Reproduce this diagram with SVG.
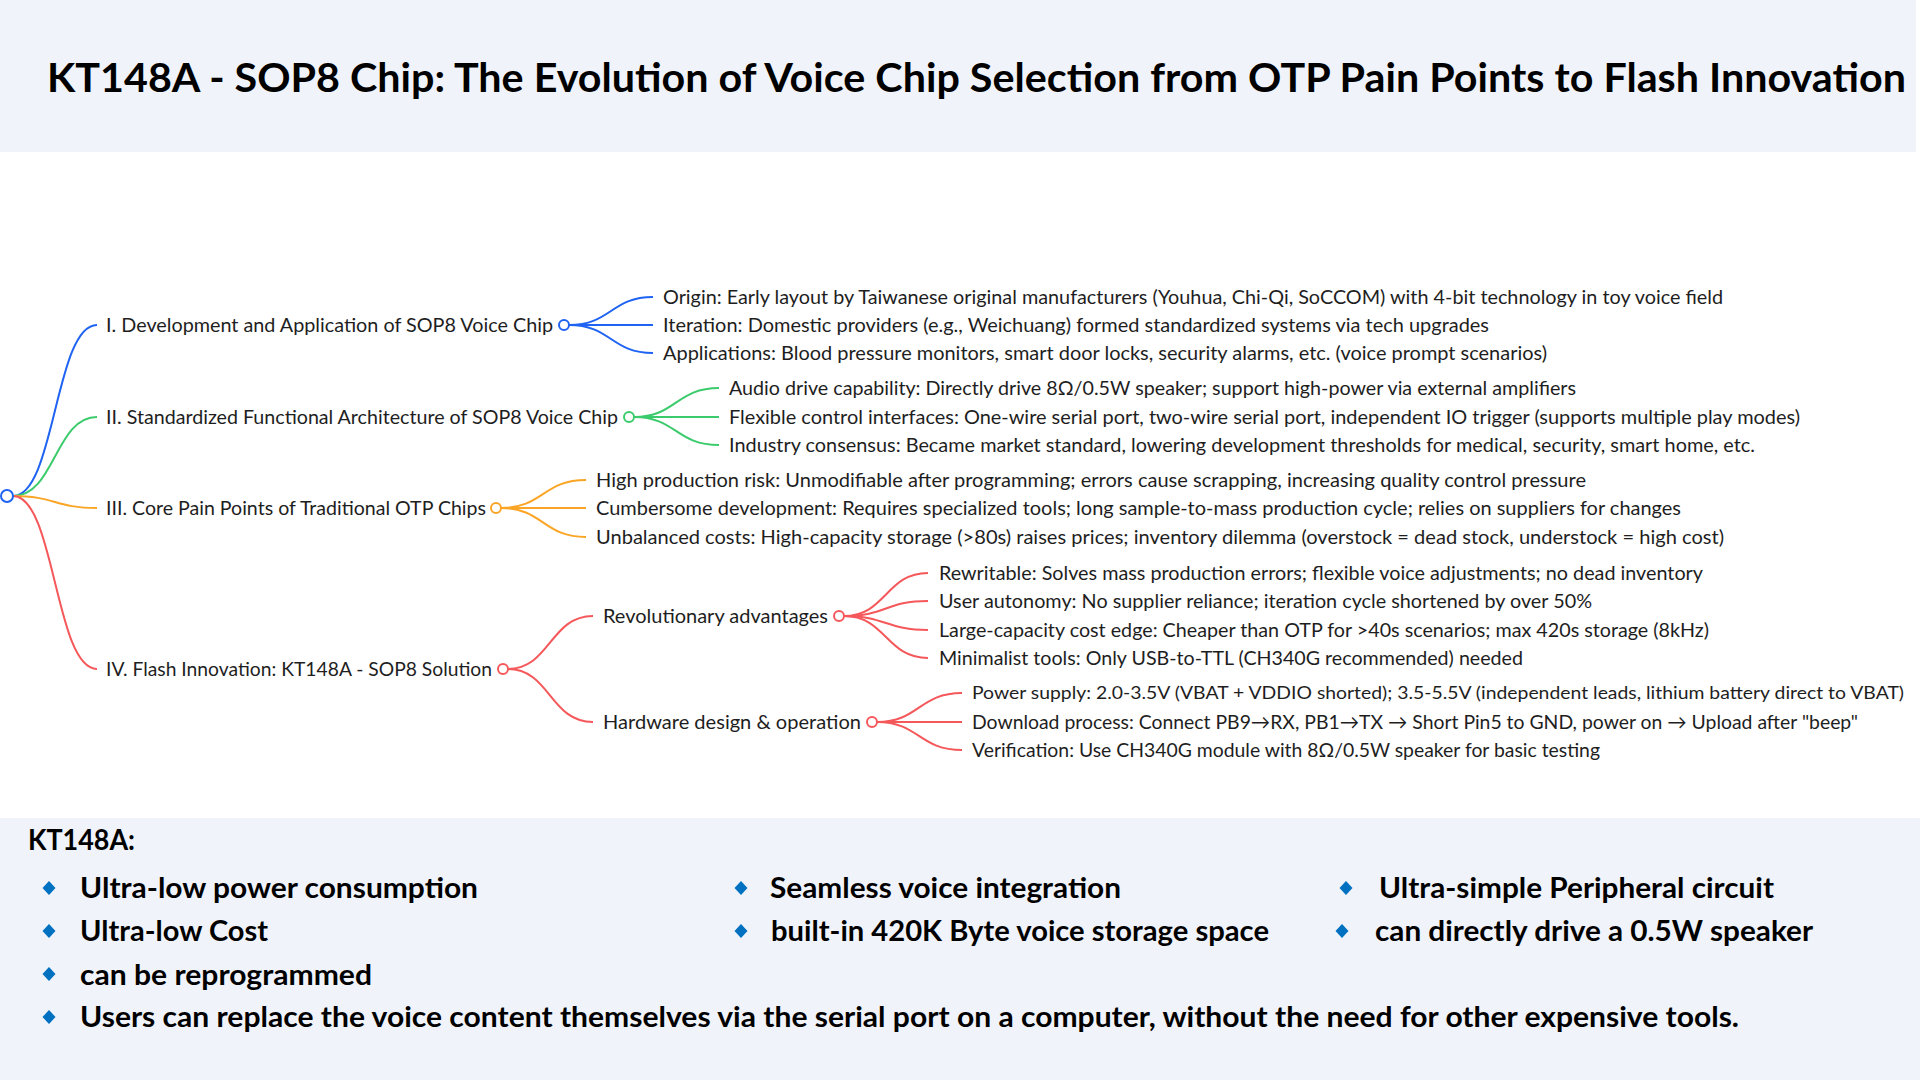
<svg xmlns="http://www.w3.org/2000/svg" width="1920" height="1080" viewBox="0 0 1920 1080">
<style>
.bg{fill:#f0f3fa}
.title{font-family:Lato,"Open Sans",sans-serif;font-weight:700;font-size:40px;fill:#000}
.t{font-family:Lato,"Open Sans",sans-serif;font-size:20px;fill:#1e1e1e}
.ts{font-size:18px}
.b{font-family:Lato,"Open Sans",sans-serif;font-weight:700;font-size:28px;fill:#000}
.link{fill:none;stroke-width:2}
.blue{stroke:#1f63f2}
.green{stroke:#3ccb6c}
.orange{stroke:#fba526}
.red{stroke:#f5585a}
.dot{fill:#fff;stroke-width:2}
.dia{fill:#0070c0}
</style>
<defs>
<polygon id="diamond" class="dia" points="0,-7 6.5,0 0,7 -6.5,0"/>
</defs>
<rect class="bg" x="0" y="0" width="1916" height="152"/>
<rect class="bg" x="0" y="818" width="1920" height="262"/>
<text class="title" x="47" y="92" textLength="1859" lengthAdjust="spacingAndGlyphs">KT148A - SOP8 Chip: The Evolution of Voice Chip Selection from OTP Pain Points to Flash Innovation</text>

<g id="connectors">
<path class="link blue" d="M13,496 C55,496 55,325 97,325"/>
<path class="link green" d="M13,496 C55,496 55,417 97,417"/>
<path class="link orange" d="M13,496 C55,496 55,508 97,508"/>
<path class="link red" d="M13,496 C55,496 55,669 97,669"/>
<path class="link blue" d="M569,325 C611,325 611,297 653,297"/>
<path class="link blue" d="M569,325 L653,325"/>
<path class="link blue" d="M569,325 C611,325 611,353 653,353"/>
<path class="link green" d="M634,417 C676,417 676,388 719,388"/>
<path class="link green" d="M634,417 L719,417"/>
<path class="link green" d="M634,417 C676,417 676,445 719,445"/>
<path class="link orange" d="M501,508 C543,508 543,480 586,480"/>
<path class="link orange" d="M501,508 L586,508"/>
<path class="link orange" d="M501,508 C543,508 543,537 586,537"/>
<path class="link red" d="M508,669 C550,669 550,616 593,616"/>
<path class="link red" d="M508,669 C550,669 550,722 593,722"/>
<path class="link red" d="M844,616 C886,616 886,573 928,573"/>
<path class="link red" d="M844,616 C886,616 886,601 928,601"/>
<path class="link red" d="M844,616 C886,616 886,630 928,630"/>
<path class="link red" d="M844,616 C886,616 886,658 928,658"/>
<path class="link red" d="M877,722 C919,722 919,693 962,693"/>
<path class="link red" d="M877,722 L962,722"/>
<path class="link red" d="M877,722 C919,722 919,750 962,750"/>
</g>

<g id="root"><circle class="dot blue" cx="7" cy="496" r="6"/></g>

<g id="n1">
<text class="t" x="106" y="332" textLength="447" lengthAdjust="spacingAndGlyphs">I. Development and Application of SOP8 Voice Chip</text>
<circle class="dot blue" cx="564" cy="325" r="5"/>
</g>
<g id="n1a"><text class="t" x="663" y="304" textLength="1060" lengthAdjust="spacingAndGlyphs">Origin: Early layout by Taiwanese original manufacturers (Youhua, Chi-Qi, SoCCOM) with 4-bit technology in toy voice field</text></g>
<g id="n1b"><text class="t" x="663" y="332" textLength="826" lengthAdjust="spacingAndGlyphs">Iteration: Domestic providers (e.g., Weichuang) formed standardized systems via tech upgrades</text></g>
<g id="n1c"><text class="t" x="663" y="360" textLength="884" lengthAdjust="spacingAndGlyphs">Applications: Blood pressure monitors, smart door locks, security alarms, etc. (voice prompt scenarios)</text></g>

<g id="n2">
<text class="t" x="106" y="424" textLength="512" lengthAdjust="spacingAndGlyphs">II. Standardized Functional Architecture of SOP8 Voice Chip</text>
<circle class="dot green" cx="629" cy="417" r="5"/>
</g>
<g id="n2a"><text class="t" x="729" y="395" textLength="847" lengthAdjust="spacingAndGlyphs">Audio drive capability: Directly drive 8Ω/0.5W speaker; support high-power via external amplifiers</text></g>
<g id="n2b"><text class="t" x="729" y="424" textLength="1071" lengthAdjust="spacingAndGlyphs">Flexible control interfaces: One-wire serial port, two-wire serial port, independent IO trigger (supports multiple play modes)</text></g>
<g id="n2c"><text class="t" x="729" y="452" textLength="1026" lengthAdjust="spacingAndGlyphs">Industry consensus: Became market standard, lowering development thresholds for medical, security, smart home, etc.</text></g>

<g id="n3">
<text class="t" x="106" y="515" textLength="380" lengthAdjust="spacingAndGlyphs">III. Core Pain Points of Traditional OTP Chips</text>
<circle class="dot orange" cx="496" cy="508" r="5"/>
</g>
<g id="n3a"><text class="t" x="596" y="487" textLength="990" lengthAdjust="spacingAndGlyphs">High production risk: Unmodifiable after programming; errors cause scrapping, increasing quality control pressure</text></g>
<g id="n3b"><text class="t" x="596" y="515" textLength="1085" lengthAdjust="spacingAndGlyphs">Cumbersome development: Requires specialized tools; long sample-to-mass production cycle; relies on suppliers for changes</text></g>
<g id="n3c"><text class="t" x="596" y="544" textLength="1128" lengthAdjust="spacingAndGlyphs">Unbalanced costs: High-capacity storage (&gt;80s) raises prices; inventory dilemma (overstock = dead stock, understock = high cost)</text></g>

<g id="n4">
<text class="t" x="106" y="676" textLength="386" lengthAdjust="spacingAndGlyphs">IV. Flash Innovation: KT148A - SOP8 Solution</text>
<circle class="dot red" cx="503" cy="669" r="5"/>
</g>
<g id="n4a">
<text class="t" x="603" y="623" textLength="225" lengthAdjust="spacingAndGlyphs">Revolutionary advantages</text>
<circle class="dot red" cx="839" cy="616" r="5"/>
</g>
<g id="n4a1"><text class="t" x="939" y="580" textLength="764" lengthAdjust="spacingAndGlyphs">Rewritable: Solves mass production errors; flexible voice adjustments; no dead inventory</text></g>
<g id="n4a2"><text class="t" x="939" y="608" textLength="653" lengthAdjust="spacingAndGlyphs">User autonomy: No supplier reliance; iteration cycle shortened by over 50%</text></g>
<g id="n4a3"><text class="t" x="939" y="637" textLength="770" lengthAdjust="spacingAndGlyphs">Large-capacity cost edge: Cheaper than OTP for &gt;40s scenarios; max 420s storage (8kHz)</text></g>
<g id="n4a4"><text class="t" x="939" y="665" textLength="584" lengthAdjust="spacingAndGlyphs">Minimalist tools: Only USB-to-TTL (CH340G recommended) needed</text></g>
<g id="n4b">
<text class="t" x="603" y="729" textLength="258" lengthAdjust="spacingAndGlyphs">Hardware design &amp; operation</text>
<circle class="dot red" cx="872" cy="722" r="5"/>
</g>
<g id="n4b1"><text class="t ts" x="972" y="699" textLength="932" lengthAdjust="spacingAndGlyphs">Power supply: 2.0-3.5V (VBAT + VDDIO shorted); 3.5-5.5V (independent leads, lithium battery direct to VBAT)</text></g>
<g id="n4b2"><text class="t" x="972" y="729" textLength="886" lengthAdjust="spacingAndGlyphs">Download process: Connect PB9→RX, PB1→TX → Short Pin5 to GND, power on → Upload after "beep"</text></g>
<g id="n4b3"><text class="t" x="972" y="757" textLength="628" lengthAdjust="spacingAndGlyphs">Verification: Use CH340G module with 8Ω/0.5W speaker for basic testing</text></g>

<g id="features">
<text class="b" x="28" y="850" textLength="107" lengthAdjust="spacingAndGlyphs">KT148A:</text>
<use href="#diamond" x="49" y="888"/>
<text class="b" x="80" y="898" textLength="398" lengthAdjust="spacingAndGlyphs">Ultra-low power consumption</text>
<use href="#diamond" x="49" y="931"/>
<text class="b" x="80" y="941" textLength="188" lengthAdjust="spacingAndGlyphs">Ultra-low Cost</text>
<use href="#diamond" x="49" y="974"/>
<text class="b" x="80" y="985" textLength="292" lengthAdjust="spacingAndGlyphs">can be reprogrammed</text>
<use href="#diamond" x="49" y="1017"/>
<text class="b" x="80" y="1027" textLength="1659" lengthAdjust="spacingAndGlyphs">Users can replace the voice content themselves via the serial port on a computer, without the need for other expensive tools.</text>
<use href="#diamond" x="741" y="888"/>
<text class="b" x="770" y="898" textLength="351" lengthAdjust="spacingAndGlyphs">Seamless voice integration</text>
<use href="#diamond" x="741" y="931"/>
<text class="b" x="771" y="941" textLength="498" lengthAdjust="spacingAndGlyphs">built-in 420K Byte voice storage space</text>
<use href="#diamond" x="1346" y="888"/>
<text class="b" x="1379" y="898" textLength="395" lengthAdjust="spacingAndGlyphs">Ultra-simple Peripheral circuit</text>
<use href="#diamond" x="1342" y="931"/>
<text class="b" x="1375" y="941" textLength="438" lengthAdjust="spacingAndGlyphs">can directly drive a 0.5W speaker</text>
</g>
</svg>
